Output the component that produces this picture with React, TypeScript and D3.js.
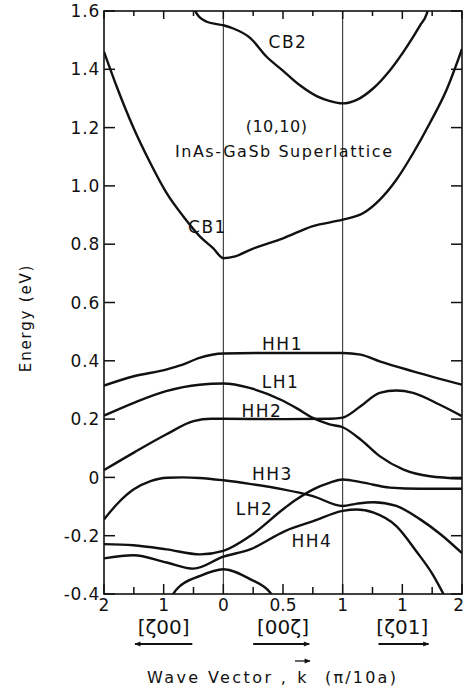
import React from 'react';
import * as d3 from 'd3';

// ---- data (path coordinate t: 0 = [ζ00] ζ=2, 1 = Γ, 2 = [00ζ] ζ=1, 3 = [ζ01] ζ=2) ----
const CB1: [number, number][] = [[0,1.46],[0.107,1.34],[0.246,1.2],[0.386,1.08],[0.525,0.975],[0.665,0.895],[0.805,0.826],[0.916,0.786],[1,0.752],[1.1,0.758],[1.22,0.78],[1.5,0.82],[1.75,0.862],[2,0.884],[2.17,0.906],[2.31,0.952],[2.45,1.021],[2.59,1.112],[2.73,1.215],[2.87,1.329],[3,1.47]];
const CB2: [number, number][] = [[0.74,1.63],[0.777,1.591],[0.861,1.563],[0.945,1.555],[1,1.551],[1.084,1.54],[1.224,1.508],[1.363,1.443],[1.503,1.394],[1.642,1.345],[1.782,1.308],[1.894,1.291],[2,1.283],[2.118,1.295],[2.257,1.335],[2.397,1.397],[2.537,1.477],[2.649,1.551],[2.705,1.591],[2.73,1.63]];
const HH1: [number, number][] = [[0,0.315],[0.25,0.347],[0.52,0.37],[0.66,0.387],[0.8,0.41],[1,0.425],[1.5,0.427],[2,0.427],[2.15,0.421],[2.31,0.398],[2.59,0.364],[3,0.318]];
const LH1: [number, number][] = [[0,0.212],[0.25,0.256],[0.52,0.296],[0.8,0.318],[1,0.322],[1.22,0.307],[1.5,0.263],[1.62,0.236],[1.75,0.204],[1.89,0.182],[2,0.172],[2.15,0.13],[2.31,0.073],[2.51,0.027],[2.73,0.004],[3,-0.004]];
const HH2: [number, number][] = [[0,0.025],[0.25,0.085],[0.52,0.147],[0.75,0.193],[0.9,0.201],[1,0.201],[1.5,0.2],[1.9,0.201],[2,0.205],[2.15,0.244],[2.31,0.29],[2.45,0.298],[2.59,0.29],[2.81,0.25],[3,0.21]];
const HH3: [number, number][] = [[0,-0.144],[0.12,-0.087],[0.25,-0.041],[0.39,-0.013],[0.53,-0.001],[0.66,0],[0.8,-0.002],[1,-0.01],[1.22,-0.022],[1.5,-0.041],[1.75,-0.064],[2,-0.098],[2.12,-0.09],[2.26,-0.085],[2.45,-0.098],[2.65,-0.144],[2.82,-0.195],[3,-0.26]];
const LH2: [number, number][] = [[0,-0.229],[0.246,-0.233],[0.525,-0.247],[0.805,-0.264],[1,-0.252],[1.224,-0.201],[1.517,-0.104],[1.615,-0.075],[1.754,-0.041],[1.894,-0.018],[2,-0.007],[2.173,-0.018],[2.397,-0.035],[2.65,-0.039],[3,-0.039]];
const HH4: [number, number][] = [[0,-0.278],[0.246,-0.267],[0.525,-0.292],[0.75,-0.313],[1,-0.272],[1.224,-0.247],[1.517,-0.184],[1.754,-0.15],[2,-0.115],[2.12,-0.11],[2.26,-0.121],[2.45,-0.167],[2.62,-0.255],[2.75,-0.33],[2.87,-0.42]];
const LH3: [number, number][] = [[0.553,-0.418],[0.609,-0.384],[0.805,-0.338],[1,-0.315],[1.224,-0.349],[1.392,-0.395],[1.433,-0.418]];

const bands = [CB1, CB2, HH1, LH1, HH2, HH3, LH2, HH4, LH3];

const yTicks = [-0.4, -0.2, 0, 0.2, 0.4, 0.6, 0.8, 1.0, 1.2, 1.4, 1.6];
const yTickLabels = ['-0.4', '-0.2', '0', '0.2', '0.4', '0.6', '0.8', '1.0', '1.2', '1.4', '1.6'];
const xMajor = [0, 0.5, 1, 1.5, 2, 2.5, 3];
const xMajorLabels = ['2', '1', '0', '0.5', '1', '1', '2'];
const xMinor = [0.25, 0.75, 1.25, 1.75, 2.25, 2.75];
const symmetryLines = [1, 2];
const directionLabels = ['[ζ00]', '[00ζ]', '[ζ01]'];
const directionCenters = [0.5, 1.5, 2.5];

const bandLabels: { text: string; t: number; e: number }[] = [
  { text: 'CB2', t: 1.542, e: 1.473 },
  { text: 'CB1', t: 0.867, e: 0.838 },
  { text: 'HH1', t: 1.496, e: 0.437 },
  { text: 'LH1', t: 1.479, e: 0.307 },
  { text: 'HH2', t: 1.324, e: 0.207 },
  { text: 'HH3', t: 1.412, e: -0.009 },
  { text: 'LH2', t: 1.261, e: -0.129 },
  { text: 'HH4', t: 1.743, e: -0.239 },
];

const W = 465, H = 689;
const FONT = '"DejaVu Sans", "Liberation Sans", sans-serif';

export default function App() {
  const x = d3.scaleLinear().domain([0, 3]).range([104, 462]);
  const y = d3.scaleLinear().domain([-0.4, 1.6]).range([594, 11]);
  const line = d3.line<[number, number]>().x(d => x(d[0])).y(d => y(d[1])).curve(d3.curveMonotoneX);
  const [x0, x1] = x.range();
  const [yb, yt] = y.range();

  return (
    <svg width={W} height={H} style={{ position: 'absolute', left: 0, top: 0, background: '#fff' }} fontFamily={FONT}>
      <defs>
        <clipPath id="plot"><rect x={x0} y={yt} width={x1 - x0} height={yb - yt} /></clipPath>
        <marker id="ah" viewBox="0 0 10 10" refX="9" refY="5" markerWidth="7" markerHeight="6" orient="auto" markerUnits="userSpaceOnUse">
          <path d="M0,1 L10,5 L0,9 Z" fill="#111" />
        </marker>
      </defs>
      <rect x={0} y={0} width={W} height={H} fill="#fff" />
      {symmetryLines.map(t => (
        <line key={t} x1={x(t)} x2={x(t)} y1={yt} y2={yb} stroke="#222" strokeWidth={1} />
      ))}
      <g clipPath="url(#plot)">
        {bands.map((b, i) => (
          <path key={i} d={line(b) || ''} fill="none" stroke="#111" strokeWidth={2.4} strokeLinejoin="round" />
        ))}
      </g>
      <rect x={x0} y={yt} width={x1 - x0} height={yb - yt} fill="none" stroke="#111" strokeWidth={1.6} />
      {yTicks.map((v, i) => (
        <g key={v}>
          <line x1={x0} x2={x0 + 11} y1={y(v)} y2={y(v)} stroke="#111" strokeWidth={1.5} />
          <line x1={x1} x2={x1 - 11} y1={y(v)} y2={y(v)} stroke="#111" strokeWidth={1.5} />
          <text x={100} y={y(v)} dy="0.36em" textAnchor="end" fontSize={17} letterSpacing={0.8} fill="#111">{yTickLabels[i]}</text>
        </g>
      ))}
      {xMajor.map((t, i) => (
        <g key={'M' + t}>
          <line x1={x(t)} x2={x(t)} y1={yb} y2={yb - 10} stroke="#111" strokeWidth={1.5} />
          <line x1={x(t)} x2={x(t)} y1={yt} y2={yt + 8} stroke="#111" strokeWidth={1.5} />
          <text x={i === xMajor.length - 1 ? W - 1 : x(t)} y={yb + 17} textAnchor={i === xMajor.length - 1 ? 'end' : 'middle'} fontSize={17} fill="#111">{xMajorLabels[i]}</text>
        </g>
      ))}
      {xMinor.map(t => (
        <g key={'m' + t}>
          <line x1={x(t)} x2={x(t)} y1={yb} y2={yb - 7} stroke="#111" strokeWidth={1.5} />
          <line x1={x(t)} x2={x(t)} y1={yt} y2={yt + 5} stroke="#111" strokeWidth={1.5} />
        </g>
      ))}
      {directionLabels.map((s, i) => (
        <text key={s} x={x(directionCenters[i])} y={yb + 40} textAnchor="middle" fontSize={20} fill="#111">{s}</text>
      ))}
      <line x1={x(0.74)} x2={x(0.26)} y1={644} y2={644} stroke="#111" strokeWidth={1.8} markerEnd="url(#ah)" />
      <line x1={x(1.25)} x2={x(1.72)} y1={644} y2={644} stroke="#111" strokeWidth={1.8} markerEnd="url(#ah)" />
      <line x1={x(2.3)} x2={x(2.72)} y1={644} y2={644} stroke="#111" strokeWidth={1.8} markerEnd="url(#ah)" />
      <text x={147} y={683} fontSize={16} letterSpacing={2.4} fill="#111">Wave Vector ,</text>
      <text x={302} y={683} textAnchor="middle" fontSize={16} fill="#111">k</text>
      <line x1={295} x2={310} y1={661} y2={661} stroke="#111" strokeWidth={1.3} markerEnd="url(#ah)" />
      <text x={325} y={683} fontSize={16} letterSpacing={2.2} fill="#111">(π/10a)</text>
      <text transform="translate(31,318) rotate(-90)" textAnchor="middle" fontSize={15} letterSpacing={1.8} fill="#111">Energy (eV)</text>
      <text x={x(1.446)} y={y(1.185)} textAnchor="middle" fontSize={16} letterSpacing={0.5} fill="#111">(10,10)</text>
      <text x={x(1.504)} y={y(1.099)} textAnchor="middle" fontSize={16} textLength={217} lengthAdjust="spacing" fill="#111">InAs-GaSb Superlattice</text>
      {bandLabels.map(l => (
        <text key={l.text} x={x(l.t)} y={y(l.e)} textAnchor="middle" fontSize={17} letterSpacing={1.5} fill="#111">{l.text}</text>
      ))}
    </svg>
  );
}
